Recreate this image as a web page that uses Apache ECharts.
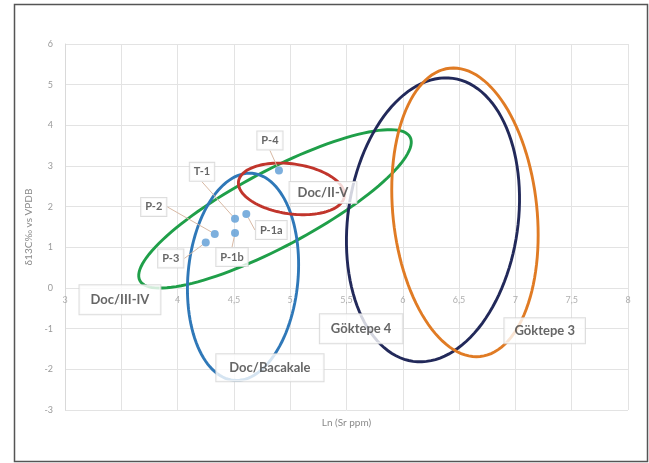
<!DOCTYPE html>
<html>
<head>
<meta charset="utf-8">
<script src="https://cdn.jsdelivr.net/npm/echarts@6/dist/echarts.min.js"></script>
<style>
  html, body { margin: 0; padding: 0; background: #fff; }
  #chart { width: 649px; height: 463px; }
</style>
</head>
<body>
<div id="chart"></div>
<script>
// samples: Ln(Sr ppm) vs d13C
const sampleNames = ["P-4", "T-1", "P-2", "P-3", "P-1b", "P-1a"];
const sampleX = [4.90, 4.51, 4.33, 4.25, 4.51, 4.61];
const sampleY = [2.89, 1.70, 1.33, 1.12, 1.35, 1.82];

// fields drawn as ellipses: centre + two half-axis vectors (data units)
const fieldNames = ["Doc/III-IV", "Doc/Bacakale", "Doc/II-V", "Göktepe 4", "Göktepe 3"];
const fieldCentre = [[4.865, 1.946], [4.581, 0.275], [5.011, 2.437], [6.268, 1.676], [6.552, 1.860]];
const fieldAxisU = [[1.200, 1.764], [0.487, -0.118], [0.470, -0.183], [0.748, -0.290], [0.636, 0.184]];
const fieldAxisV = [[0.158, -0.825], [-0.081, -2.545], [-0.031, -0.608], [-0.177, -3.479], [0.135, -3.545]];
const fieldLabelAt = [[3.488, -0.29], [4.82, -1.96], [5.291, 2.351], [5.63, -1.0], [7.26, -1.05]];

// x tick labels sit on the y = 0 line
const xTickValues = [3, 3.5, 4, 4.5, 5, 5.5, 6, 6.5, 7, 7.5, 8];
const xTickLabels = ["3", "3,5", "4", "4,5", "5", "5,5", "6", "6,5", "7", "7,5", "8"];

// axes
const xMin = 3, xMax = 8, xStep = 0.5;
const yMin = -3, yMax = 6, yStep = 1;

// styling
const fieldColors = ["#1f9f49", "#2f78b8", "#c1352c", "#22295a", "#e07b24"];
const fieldPadding = [[8, 11], [7, 13], [4, 8], [8, 11], [6, 10]];
const sampleShift = [[-9, -30], [-33, -47], [-61, -27], [-35, 16], [-3, 24], [25, 16]];

let myChart = echarts.init(document.getElementById("chart"));
var option;

const fmt = function (v) {
  return String(v).replace(".", ",");
};

option = {
  animation: false,
  backgroundColor: "#fff",
  textStyle: { fontFamily: "Lato, 'Open Sans', sans-serif" },
  grid: { left: 65, right: 21, top: 44, bottom: 53, outerBoundsMode: "none" },
  graphic: [
    {
      type: "rect",
      left: 12,
      top: 2,
      shape: { width: 633, height: 457 },
      style: { fill: "none", stroke: "#555", lineWidth: 1.5 },
    },
  ],
  xAxis: {
    type: "value",
    min: xMin,
    max: xMax,
    interval: xStep,
    name: "Ln (Sr ppm)",
    nameLocation: "middle",
    nameGap: 8,
    nameTextStyle: { color: "#8a8a8a", fontSize: 10 },
    axisLine: { show: false, onZero: false },
    axisTick: { show: false },
    axisLabel: { show: false },
    splitLine: { lineStyle: { color: "#e3e3e3" } },
  },
  yAxis: {
    type: "value",
    min: yMin,
    max: yMax,
    interval: yStep,
    name: "δ13C‰ vs VPDB",
    nameLocation: "middle",
    nameGap: 28,
    nameTextStyle: { color: "#8a8a8a", fontSize: 10 },
    axisLine: { show: true, onZero: false, lineStyle: { color: "#d9d9d9" } },
    axisTick: { show: false },
    axisLabel: { color: "#9a9a9a", fontSize: 9, margin: 12, formatter: fmt },
    splitLine: { lineStyle: { color: "#e3e3e3" } },
  },
  series: [
    {
      type: "scatter",
      name: "x ticks",
      z: 1,
      silent: true,
      symbolSize: 0,
      data: xTickValues.map(function (v, i) {
        return { name: xTickLabels[i], value: [v, 0] };
      }),
      label: {
        show: true,
        position: "bottom",
        distance: 8,
        formatter: "{b}",
        color: "#9a9a9a",
        fontSize: 9,
      },
    },
    {
      type: "custom",
      name: "fields",
      z: 2,
      encode: { x: 0, y: 1 },
      data: fieldNames.map(function (n, i) {
        return [fieldCentre[i][0], fieldCentre[i][1], fieldAxisU[i][0], fieldAxisU[i][1], fieldAxisV[i][0], fieldAxisV[i][1]];
      }),
      renderItem: function (params, api) {
        const cx = api.value(0), cy = api.value(1);
        const ux = api.value(2), uy = api.value(3);
        const vx = api.value(4), vy = api.value(5);
        const pts = [];
        for (let a = 0; a < 360; a += 3) {
          const t = (a * Math.PI) / 180;
          const c = Math.cos(t), s = Math.sin(t);
          pts.push(api.coord([cx + ux * c + vx * s, cy + uy * c + vy * s]));
        }
        return {
          type: "polygon",
          shape: { points: pts },
          style: { fill: "none", stroke: fieldColors[params.dataIndex], lineWidth: 2.9 },
        };
      },
    },
    {
      type: "scatter",
      name: "samples",
      z: 3,
      symbolSize: 8,
      itemStyle: { color: "#5b9bd5" },
      data: sampleNames.map(function (n, i) {
        return { name: n, value: [sampleX[i], sampleY[i]] };
      }),
      label: {
        show: true,
        position: "inside",
        formatter: "{b}",
        color: "#404040",
        fontSize: 11,
        fontWeight: "bold",
        backgroundColor: "#fff",
        borderColor: "#d3d3d3",
        borderWidth: 1,
        padding: [4, 4, 3, 4],
      },
      labelLayout: function (params) {
        const s = sampleShift[params.dataIndex];
        return { dx: s[0], dy: s[1] };
      },
      labelLine: { show: true, lineStyle: { color: "#d8b9a4", width: 1 } },
    },
    {
      type: "scatter",
      name: "field labels",
      z: 4,
      symbolSize: 0,
      silent: true,
      data: fieldNames.map(function (n, i) {
        return {
          name: n,
          value: fieldLabelAt[i],
          label: { padding: fieldPadding[i] },
        };
      }),
      label: {
        show: true,
        position: "inside",
        formatter: "{b}",
        color: "#404040",
        fontSize: 13,
        fontWeight: "bold",
        backgroundColor: "#fff",
        borderColor: "#d3d3d3",
        borderWidth: 1,
      },
    },
  ],
};

option && myChart.setOption(option);
</script>
</body>
</html>
